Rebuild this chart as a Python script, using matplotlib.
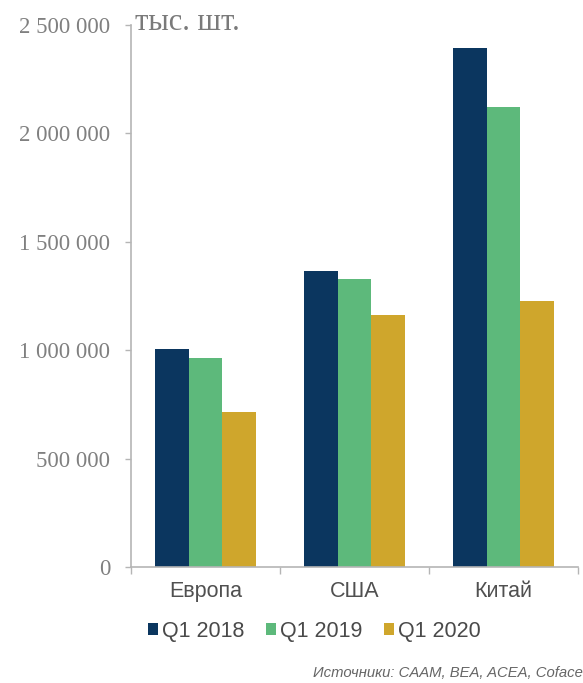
import matplotlib
matplotlib.use("Agg")
import matplotlib.pyplot as plt
from matplotlib.ticker import FuncFormatter, FixedLocator
import numpy as np

# Passenger car production, thousand units
categories = ["Европа", "США", "Китай"]
series_names = ["Q1 2018", "Q1 2019", "Q1 2020"]
q1_2018 = [1005000, 1365000, 2395000]
q1_2019 = [963000, 1328000, 2122000]
q1_2020 = [715000, 1162000, 1227000]
y_ticks = [0, 500000, 1000000, 1500000, 2000000, 2500000]
unit_label = "тыс. шт."
source_note = "Источники: CAAM, BEA, ACEA, Coface"

colors = ["#0b365f", "#5db97b", "#cfa62c"]
axis_grey = "#b5b5b5"

fig = plt.figure(figsize=(5.83, 6.83), dpi=100)
ax = fig.add_axes([131 / 583, 116 / 683, 447 / 583, 542 / 683])

x = np.arange(len(categories))
bar_w = 0.225
for i, (vals, name) in enumerate(zip([q1_2018, q1_2019, q1_2020], series_names)):
    ax.bar(x + (i - 1) * bar_w, vals, width=bar_w, color=colors[i], label=name,
           linewidth=0)

ax.set_xlim(-0.5, len(categories) - 0.5)
ax.set_ylim(0, 2500000)

ax.yaxis.set_major_locator(FixedLocator(y_ticks))
ax.yaxis.set_major_formatter(
    FuncFormatter(lambda v, p: f"{int(v):,}".replace(",", " ")))
for lab in ax.get_yticklabels():
    lab.set_family("Liberation Serif")
ax.tick_params(axis="y", length=4.5, width=1, color=axis_grey, pad=10.5,
               labelsize=16.5, labelcolor="#808080")

# category labels centred, tick marks at group boundaries
ax.set_xticks(x)
ax.set_xticklabels(categories, family="Liberation Sans", fontsize=15.5,
                   color="#505050")
ax.tick_params(axis="x", which="major", length=0, pad=10)
ax.set_xticks(np.arange(-0.5, len(categories)), minor=True)
ax.tick_params(axis="x", which="minor", length=5, width=1, color=axis_grey)

for side in ["top", "right"]:
    ax.spines[side].set_visible(False)
for side in ["left", "bottom"]:
    ax.spines[side].set_color(axis_grey)
    ax.spines[side].set_linewidth(1.2)

ax.annotate(unit_label, xy=(0, 1), xycoords="axes fraction",
            xytext=(4, -5), textcoords="offset pixels",
            ha="left", va="baseline", family="Liberation Serif", fontsize=22,
            color="#7a7a7a")

leg = fig.legend(loc="center", bbox_to_anchor=(314 / 583, 1 - 631 / 683),
                 ncol=3, frameon=False, handlelength=0.5, handleheight=0.5,
                 handletextpad=0.15, columnspacing=1.0, borderpad=0,
                 prop={"family": "Liberation Sans", "size": 15.5})
for t in leg.get_texts():
    t.set_color("#4a4a4a")

fig.text(313 / 583, 1 - 673 / 683, source_note, ha="left", va="center",
         family="Liberation Sans", style="italic", fontsize=10.7, color="#666666")

fig.savefig("out.png", dpi=100)
